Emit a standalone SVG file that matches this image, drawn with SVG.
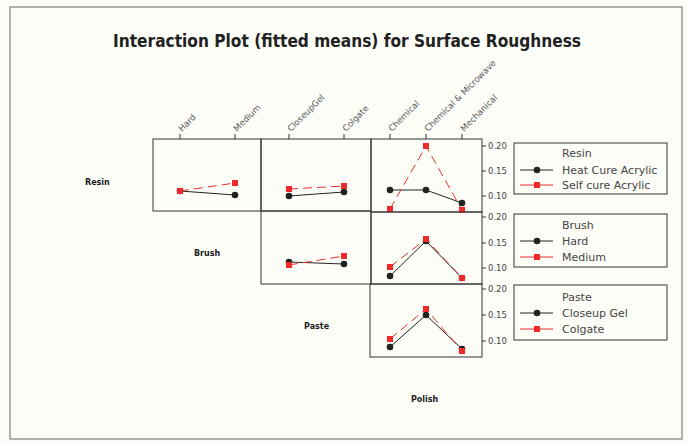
<svg xmlns="http://www.w3.org/2000/svg" width="687" height="443" viewBox="0 0 687 443">
<style>
.frame{fill:none;stroke:#333;stroke-width:1}
.blk{fill:none;stroke:#222;stroke-width:1}
.red{fill:none;stroke:#e8302f;stroke-width:1;stroke-dasharray:9,5}
.redl{fill:none;stroke:#e8302f;stroke-width:1}
.dot{fill:#222}
.sq{fill:#ee2a2a}
.tick{stroke:#333;stroke-width:1}
.ax{font-family:"DejaVu Sans",sans-serif;font-size:8.5px;fill:#555}
.yt{font-family:"DejaVu Sans",sans-serif;font-size:8.5px;fill:#444}
.lab{font-family:"DejaVu Sans",sans-serif;font-size:8px;font-weight:bold;fill:#222}
.leg{font-family:"DejaVu Sans",sans-serif;font-size:11px;fill:#444}
.title{font-family:"DejaVu Sans",sans-serif;font-size:17.5px;font-weight:bold;fill:#222}
</style>
<defs>
<circle id="c" r="3.3" class="dot"/>
<rect id="s" x="-3" y="-3" width="6" height="6" class="sq"/>
</defs>
<rect x="0" y="0" width="687" height="443" fill="#fdfdf8"/>
<rect x="10" y="7" width="672" height="432" fill="none" stroke="#666" stroke-width="1"/>
<text class="title" x="113" y="47" textLength="468" lengthAdjust="spacingAndGlyphs">Interaction Plot (fitted means) for Surface Roughness</text>

<g id="xaxis">
<line class="tick" x1="180" y1="134" x2="180" y2="139"/>
<line class="tick" x1="235" y1="134" x2="235" y2="139"/>
<line class="tick" x1="289" y1="134" x2="289" y2="139"/>
<line class="tick" x1="344" y1="134" x2="344" y2="139"/>
<line class="tick" x1="390" y1="134" x2="390" y2="139"/>
<line class="tick" x1="426" y1="134" x2="426" y2="139"/>
<line class="tick" x1="462" y1="134" x2="462" y2="139"/>
<text class="ax" transform="translate(182,132) rotate(-45)">Hard</text>
<text class="ax" transform="translate(237,132) rotate(-45)">Medium</text>
<text class="ax" transform="translate(291,132) rotate(-45)">CloseupGel</text>
<text class="ax" transform="translate(346,132) rotate(-45)">Colgate</text>
<text class="ax" transform="translate(392,132) rotate(-45)">Chemical</text>
<text class="ax" transform="translate(428,132) rotate(-45)">Chemical &amp; Microwave</text>
<text class="ax" transform="translate(464,132) rotate(-45)">Mechanical</text>
</g>

<g id="yaxis">
<line class="tick" x1="482" y1="146" x2="486" y2="146"/><text class="yt" x="488" y="149">0.20</text>
<line class="tick" x1="482" y1="171" x2="486" y2="171"/><text class="yt" x="488" y="174">0.15</text>
<line class="tick" x1="482" y1="196" x2="486" y2="196"/><text class="yt" x="488" y="199">0.10</text>
<line class="tick" x1="482" y1="217" x2="486" y2="217"/><text class="yt" x="488" y="220">0.20</text>
<line class="tick" x1="482" y1="243" x2="486" y2="243"/><text class="yt" x="488" y="246">0.15</text>
<line class="tick" x1="482" y1="268" x2="486" y2="268"/><text class="yt" x="488" y="271">0.10</text>
<line class="tick" x1="482" y1="289" x2="486" y2="289"/><text class="yt" x="488" y="292">0.20</text>
<line class="tick" x1="482" y1="315" x2="486" y2="315"/><text class="yt" x="488" y="318">0.15</text>
<line class="tick" x1="482" y1="341" x2="486" y2="341"/><text class="yt" x="488" y="344">0.10</text>
</g>

<g id="labels">
<text class="lab" x="85" y="185">Resin</text>
<text class="lab" x="194" y="256">Brush</text>
<text class="lab" x="304" y="329">Paste</text>
<text class="lab" x="411" y="402">Polish</text>
</g>

<g id="panel-resin-brush">
<rect class="frame" x="153" y="139" width="108" height="72"/>
<polyline class="blk" points="180,191 235,195"/>
<polyline class="red" points="180,191 235,183"/>
<use href="#c" x="180" y="191"/><use href="#c" x="235" y="195"/>
<use href="#s" x="180" y="191"/><use href="#s" x="235" y="183"/>
</g>

<g id="panel-resin-paste">
<rect class="frame" x="261" y="139" width="110" height="72"/>
<polyline class="blk" points="289,196 344,192"/>
<polyline class="red" points="289,189 344,186"/>
<use href="#c" x="289" y="196"/><use href="#c" x="344" y="192"/>
<use href="#s" x="289" y="189"/><use href="#s" x="344" y="186"/>
</g>

<g id="panel-resin-polish">
<rect class="frame" x="371" y="139" width="111" height="73"/>
<polyline class="blk" points="390,190 426,190 462,203"/>
<polyline class="red" points="390,209 426,146 462,210"/>
<use href="#c" x="390" y="190"/><use href="#c" x="426" y="190"/><use href="#c" x="462" y="203"/>
<use href="#s" x="390" y="209"/><use href="#s" x="426" y="146"/><use href="#s" x="462" y="210"/>
</g>

<g id="panel-brush-paste">
<rect class="frame" x="261" y="211" width="110" height="73"/>
<polyline class="blk" points="289,262 344,264"/>
<polyline class="red" points="289,265 344,256"/>
<use href="#c" x="289" y="262"/><use href="#c" x="344" y="264"/>
<use href="#s" x="289" y="265"/><use href="#s" x="344" y="256"/>
</g>

<g id="panel-brush-polish">
<rect class="frame" x="371" y="212" width="111" height="72"/>
<polyline class="blk" points="390,276 426,241 462,278"/>
<polyline class="red" points="390,267 426,239 462,278"/>
<use href="#c" x="390" y="276"/><use href="#c" x="426" y="241"/><use href="#c" x="462" y="278"/>
<use href="#s" x="390" y="267"/><use href="#s" x="426" y="239"/><use href="#s" x="462" y="278"/>
</g>

<g id="panel-paste-polish">
<rect class="frame" x="370" y="284" width="112" height="73"/>
<polyline class="blk" points="390,347 426,315 462,349"/>
<polyline class="red" points="390,339 426,309 462,351"/>
<use href="#c" x="390" y="347"/><use href="#c" x="426" y="315"/><use href="#c" x="462" y="349"/>
<use href="#s" x="390" y="339"/><use href="#s" x="426" y="309"/><use href="#s" x="462" y="351"/>
</g>

<g id="legend-resin">
<rect class="frame" x="514" y="143" width="153" height="51"/>
<text class="leg" x="562" y="157">Resin</text>
<line class="blk" x1="520" y1="170" x2="553" y2="170"/><use href="#c" x="537" y="170"/>
<text class="leg" x="562" y="174">Heat Cure Acrylic</text>
<line class="redl" x1="520" y1="185" x2="553" y2="185"/><use href="#s" x="537" y="185"/>
<text class="leg" x="562" y="189">Self cure Acrylic</text>
</g>

<g id="legend-brush">
<rect class="frame" x="514" y="214" width="153" height="53"/>
<text class="leg" x="562" y="229">Brush</text>
<line class="blk" x1="520" y1="241" x2="553" y2="241"/><use href="#c" x="537" y="241"/>
<text class="leg" x="562" y="245">Hard</text>
<line class="redl" x1="520" y1="257" x2="553" y2="257"/><use href="#s" x="537" y="257"/>
<text class="leg" x="562" y="261">Medium</text>
</g>

<g id="legend-paste">
<rect class="frame" x="514" y="285" width="153" height="55"/>
<text class="leg" x="562" y="301">Paste</text>
<line class="blk" x1="520" y1="313" x2="553" y2="313"/><use href="#c" x="537" y="313"/>
<text class="leg" x="562" y="317">Closeup Gel</text>
<line class="redl" x1="520" y1="329" x2="553" y2="329"/><use href="#s" x="537" y="329"/>
<text class="leg" x="562" y="333">Colgate</text>
</g>
</svg>
